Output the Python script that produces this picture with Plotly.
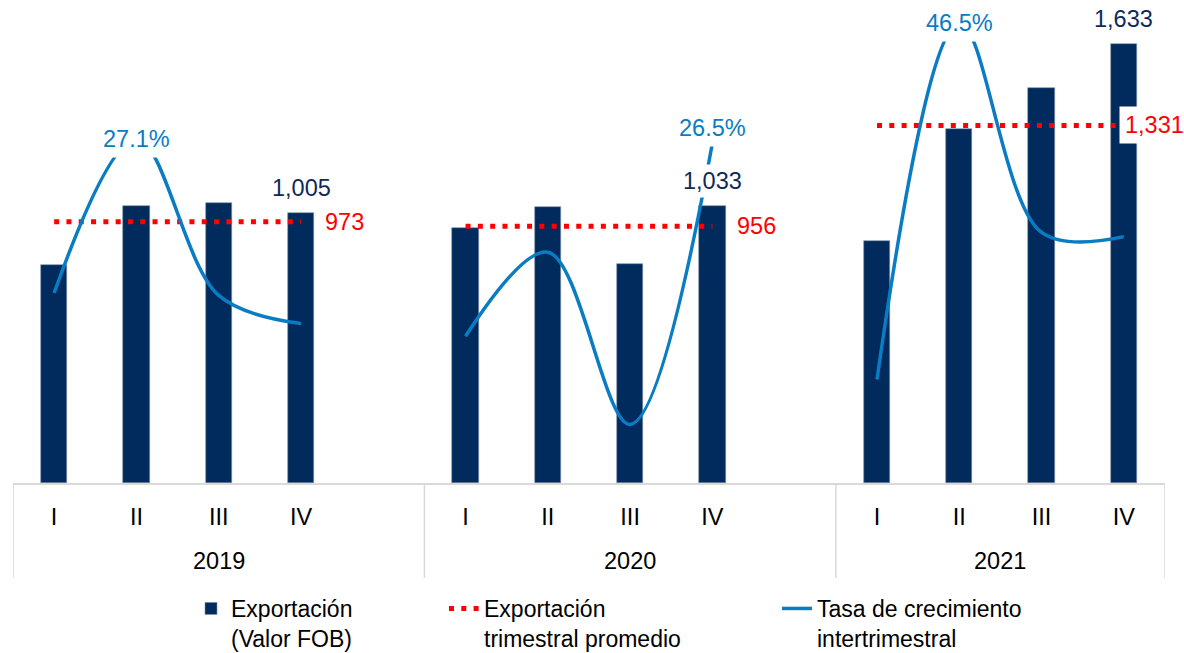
import plotly.graph_objects as go

# ---------------- data ----------------
years = ["2019", "2020", "2021"]
quarters = ["I", "II", "III", "IV"]

exports_2019 = [812, 1032, 1043, 1005]
exports_2020 = [948, 1027, 817, 1033]
exports_2021 = [900, 1319, 1472, 1633]

average_2019 = [973, 973, 973, 973]
average_2020 = [956, 956, 956, 956]
average_2021 = [1331, 1331, 1331, 1331]

growth_2019 = [1.5, 27.1, 1.1, -3.6]
growth_2020 = [-5.7, 8.3, -20.4, 26.5]
growth_2021 = [-12.9, 46.5, 11.6, 10.9]

growth_labels = [("2019", "II"), ("2020", "IV"), ("2021", "II")]
export_labels = [("2019", "IV"), ("2020", "IV"), ("2021", "IV")]

legend_names = ["Exportación<br>(Valor FOB)",
                "Exportación<br>trimestral promedio",
                "Tasa de crecimiento<br>intertrimestral"]

# ---------------- styling ----------------
NAVY = "#012B5D"
BLUE = "#0A7CC4"
RED = "#FF0000"
GRAY = "#D9D9D9"
FONT = "Liberation Sans, Arial, sans-serif"
FS = 23.5

exports = [exports_2019, exports_2020, exports_2021]
averages = [average_2019, average_2020, average_2021]
growths = [growth_2019, growth_2020, growth_2021]

SLOTS = 5  # four quarters + one empty slot per year


def pos(yi, qi):
    return yi * SLOTS + qi


bx, by, lx, ly, gx, gy = [], [], [], [], [], []
tickvals, ticktext = [], []
for yi, yr in enumerate(years):
    for qi, q in enumerate(quarters):
        p = pos(yi, qi)
        bx.append(p)
        by.append(exports[yi][qi])
        lx.append(p)
        ly.append(averages[yi][qi])
        gx.append(p)
        gy.append(growths[yi][qi])
        tickvals.append(p)
        ticktext.append(q)
    if yi < len(years) - 1:
        lx.append(None); ly.append(None)
        gx.append(pos(yi, 4)); gy.append(None)

fig = go.Figure()

fig.add_trace(go.Bar(
    x=bx, y=by, name=legend_names[0], width=0.32,
    marker=dict(color=NAVY, line=dict(color="#7C8FAA", width=0.6)),
    legend="legend", hoverinfo="y"))

fig.add_trace(go.Scatter(
    x=lx, y=ly, name=legend_names[1], mode="lines",
    line=dict(color=RED, width=5, dash="5px,7.3px"),
    connectgaps=False, legend="legend2"))

fig.add_trace(go.Scatter(
    x=gx, y=gy, name=legend_names[2], mode="lines", yaxis="y2",
    line=dict(color=BLUE, width=3.5, shape="spline", smoothing=1.0),
    connectgaps=False, legend="legend3"))

annotations = []
# value labels on the last quarter bars
for yr, q in export_labels:
    yi, qi = years.index(yr), quarters.index(q)
    v = exports[yi][qi]
    annotations.append(dict(
        x=pos(yi, qi), y=v, xref="x", yref="y", text=f"{v:,}",
        showarrow=False, yanchor="middle", yshift=25,
        font=dict(size=FS, color="#0E2A57", family=FONT),
        bgcolor="white", borderpad=3))

# average labels to the right of each dotted line
avg_shift = [18, 19, -5]
for yi, yr in enumerate(years):
    v = averages[yi][-1]
    annotations.append(dict(
        x=pos(yi, 3), y=v, xref="x", yref="y", text=f"{v:,}",
        showarrow=False, xanchor="left", yanchor="middle",
        xshift=avg_shift[yi],
        font=dict(size=FS, color=RED, family=FONT),
        bgcolor="white", borderpad=5))

# growth labels
g_shift = {"2019": 0, "2020": 15, "2021": 0}
for yr, q in growth_labels:
    yi, qi = years.index(yr), quarters.index(q)
    v = growths[yi][qi]
    annotations.append(dict(
        x=pos(yi, qi), y=v, xref="x", yref="y2", text=f"{v:.1f}%",
        showarrow=False, yanchor="middle", yshift=g_shift[yr],
        font=dict(size=FS, color=BLUE, family=FONT),
        bgcolor="white", borderpad=5))

# year labels under the quarter labels
for yi, yr in enumerate(years):
    n = len(quarters) + (1 if yi < len(years) - 1 else 0)
    centre = pos(yi, 0) + (n - 1) / 2
    annotations.append(dict(
        x=centre, y=0, xref="x", yref="paper", text=yr,
        showarrow=False, yanchor="middle", yshift=-78,
        font=dict(size=FS, color="black", family=FONT)))

# group separators of the category table
shapes = []
bounds = [pos(0, 0) - 0.5] + [pos(yi, 0) - 0.5 for yi in range(1, len(years))] + [pos(len(years) - 1, 3) + 0.5]
for b in bounds:
    shapes.append(dict(type="line", xref="x", yref="paper", x0=b, x1=b,
                       y0=0, y1=-95 / 478, line=dict(color=GRAY, width=1.5),
                       layer="below"))

PLOT_L, PLOT_R = 13, 1165
PW = PLOT_R - PLOT_L


def lx_paper(px):
    return (px - PLOT_L) / PW


leg_common = dict(orientation="v", yref="container", y=1 - 587 / 653,
                  yanchor="top", xanchor="left", valign="top",
                  bgcolor="rgba(0,0,0,0)",
                  font=dict(size=23, color="black", family=FONT),
                  itemclick=False, itemdoubleclick=False)

fig.update_layout(
    width=1184, height=653,
    margin=dict(l=PLOT_L, r=1184 - PLOT_R, t=5, b=170, autoexpand=False),
    paper_bgcolor="white", plot_bgcolor="white",
    font=dict(family=FONT, size=FS, color="black"),
    bargap=0,
    xaxis=dict(range=[-0.5, pos(2, 3) + 0.5], tickvals=tickvals, ticktext=ticktext,
               showline=True, linecolor=GRAY, linewidth=1.5, showgrid=False,
               zeroline=False, ticks="outside", ticklen=12,
               tickcolor="rgba(0,0,0,0)",
               tickfont=dict(size=FS, color="black", family=FONT)),
    yaxis=dict(range=[0, 478 / 0.2686], visible=False, showgrid=False, zeroline=False),
    yaxis2=dict(range=[-181 / 6, 297 / 6], overlaying="y", visible=False,
                showgrid=False, zeroline=False),
    legend=dict(x=lx_paper(191), **leg_common),
    legend2=dict(x=lx_paper(444), **leg_common),
    legend3=dict(x=lx_paper(777), **leg_common),
    annotations=annotations,
    shapes=shapes,
    showlegend=True,
)

fig.write_html("out.html",
               config={"displayModeBar": False},
               post_script="document.body.style.margin='0px';"
                           "document.body.style.overflow='hidden';")
